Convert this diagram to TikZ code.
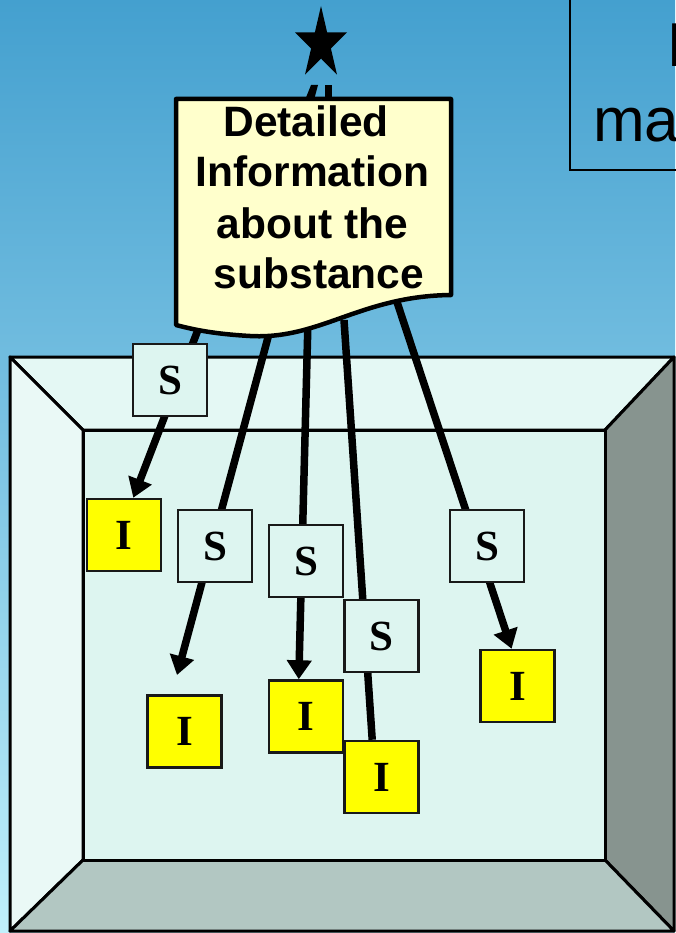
\documentclass[tikz,border=0pt]{standalone}
\usepackage{fontspec}
\setmainfont{Liberation Serif}
\newfontfamily\arialf{Liberation Sans}
\usetikzlibrary{arrows.meta}
\pgfdeclarelayer{bglayer}
\pgfdeclarelayer{linelayer}
\pgfsetlayers{bglayer,linelayer,main}
\definecolor{bgtop}{HTML}{44A0CF}
\definecolor{bgmid}{HTML}{7EC5E4}
\definecolor{bgbot}{HTML}{C0F0FB}
\definecolor{ceil}{HTML}{E4F8F4}
\definecolor{leftwall}{HTML}{EAF9F6}
\definecolor{backwall}{HTML}{DDF5F0}
\definecolor{floorc}{HTML}{B2C7C2}
\definecolor{rightwall}{HTML}{87948F}
\definecolor{docfill}{HTML}{FFFFCC}
\definecolor{ibfill}{HTML}{FFFF00}
\begin{document}
\begin{tikzpicture}[x=1pt,y=-1pt,
  sbox/.style={draw=black!90, line width=2.5pt, fill=backwall,
    minimum width=74pt, minimum height=72pt, inner sep=0pt,
    font=\fontsize{43}{43}\selectfont\bfseries},
  ibox/.style={sbox, fill=ibfill},
  conn/.style={line width=7.5pt, draw=black},
  arr/.style={conn, -{Triangle[length=19pt,width=24pt]}},
  doctext/.style={font=\arialf\bfseries\fontsize{42.5}{50}\selectfont, anchor=base, inner sep=0pt},
  roomline/.style={draw=black, line width=3pt, line join=round},
  boxtext/.style={font=\arialf\fontsize{62}{62}\selectfont, anchor=base west, inner sep=0pt}
]
\useasboundingbox (0,0) rectangle (675,933);
\clip (0,0) rectangle (675,933);

\begin{pgfonlayer}{bglayer}
  % background gradient
  \shade[top color=bgtop, bottom color=bgbot, middle color=bgmid] (0,0) rectangle (675,933);
  % room
  \filldraw[roomline, fill=ceil] (10,357) -- (674,357) -- (605,430) -- (83,430) -- cycle;
  \filldraw[roomline, fill=leftwall] (10,357) -- (83,430) -- (83,860) -- (10,931) -- cycle;
  \filldraw[roomline, fill=rightwall] (674,357) -- (605,430) -- (605,860) -- (674,931) -- cycle;
  \filldraw[roomline, fill=floorc] (83,860) -- (605,860) -- (674,931) -- (10,931) -- cycle;
  \filldraw[roomline, fill=backwall] (83,430) rectangle (605,860);
  % top right box with text (cut off at the picture's edge, as in the reference)
  \draw[line width=2pt] (570,-10) rectangle (700,170);
  \node[boxtext] (bt1) at (667,67) {Risk};
  \node[boxtext] (bt2) at (593,142) {management};
  % star
  \fill[black] (321,6) -- (327.1,32.3) -- (347,32.3) -- (330.9,48.5) -- (337,74.7)
     -- (321,58.5) -- (305,74.7) -- (311.1,48.5) -- (295,32.3) -- (314.9,32.3) -- cycle;
  % hidden connector to star
  \fill[black] (305,100) -- (311,85) -- (318,85) -- (314,100) -- cycle;
  \fill[black] (325,85) rectangle (332,100);
\end{pgfonlayer}

% start points behind the document
\coordinate (d1) at (201,322);
\coordinate (d2) at (270,330);
\coordinate (d3) at (308,320);
\coordinate (d4) at (344,320);
\coordinate (d5) at (395,296);
\coordinate (a2) at (177,675);

% S boxes
\node[sbox] (S1) at (170,380) {S};
\node[sbox] (S2) at (215,546) {S};
\node[sbox] (S3) at (306,561) {S};
\node[sbox] (S4) at (381.5,636) {S};
\node[sbox] (S5) at (487,546) {S};

% I boxes
\node[ibox] (I1) at (124,535) {I};
\node[ibox] (I2) at (184.5,731.5) {I};
\node[ibox] (I3) at (306,716.5) {I};
\node[ibox] (I4) at (381.5,777) {I};
\node[ibox] (I5) at (517.5,686) {I};

% connectors
\begin{pgfonlayer}{linelayer}
  \draw[arr] (d1) -- (I1.76);
  \draw[arr] (d2) -- (a2);
  \draw[arr] (d3) -- (I3.101);
  \draw[conn] (d4) -- (I4.104);
  \draw[arr] (d5) -- (I5.99);
\end{pgfonlayer}

% document
\filldraw[fill=docfill, draw=black, line width=4.5pt, line join=round]
  (176,99) -- (451,99) -- (451,295)
  .. controls (360,296) and (320,340) .. (250,336)
  .. controls (215,334) and (195,330) .. (176,325) -- cycle;
\node[doctext] (t1) at (306,137) {Detailed};
\node[doctext] (t2) at (312.5,187) {Information};
\node[doctext] (t3) at (312.5,238) {about the};
\node[doctext] (t4) at (319,288) {substance};
\end{tikzpicture}
\end{document}
